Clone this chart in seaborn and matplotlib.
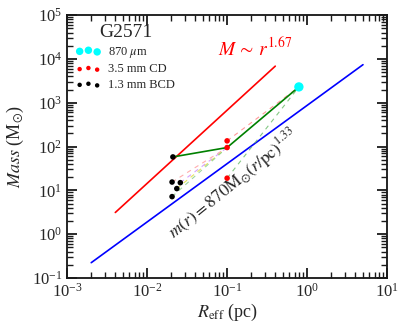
import numpy as np
import pandas as pd
import matplotlib
matplotlib.use("Agg")
import matplotlib.pyplot as plt
import seaborn as sns

# data
r_870 = [0.79]
m_870 = [2300]
r_cd = [0.1, 0.1, 0.1]
m_cd = [135, 95, 19]
r_bcd = [0.021, 0.0205, 0.026, 0.0235, 0.0205]
m_bcd = [58, 15.5, 15, 11, 7.2]
# fragment chain (green)
r_chain = [0.021, 0.1, 0.79]
m_chain = [58, 95, 2300]
# relations
r_red = [0.004, 0.4]
r_blue = [0.002, 5.0]
slope_red, norm_red = 1.67, 10**4.5
slope_blue, norm_blue = 1.33, 870.0

sns.set_theme(style="ticks")
plt.rcParams["font.family"] = ["Liberation Serif", "DejaVu Serif"]
plt.rcParams["mathtext.fontset"] = "stix"
plt.rcParams["xtick.direction"] = "in"
plt.rcParams["ytick.direction"] = "in"
plt.rcParams["axes.axisbelow"] = False

fig = plt.figure(figsize=(4.07, 3.29), dpi=100)
ax = fig.add_axes([0.165, 0.155, 0.786, 0.799])
ax.set_xscale("log")
ax.set_yscale("log")

# power-law relations
red_df = pd.DataFrame({"r": r_red, "m": [norm_red * x**slope_red for x in r_red]})
blue_df = pd.DataFrame({"r": r_blue, "m": [norm_blue * x**slope_blue for x in r_blue]})
sns.lineplot(data=red_df, x="r", y="m", color="red", lw=1.2, ax=ax)
sns.lineplot(data=blue_df, x="r", y="m", color="blue", lw=1.2, ax=ax)

# faint dashed links from BCD cores to the CD core
dash_cols = ["#ff9999", "#cc88ff", "#dddd33", "#88cc88", "#66dddd"]
for i, (rb, mb) in enumerate(zip(r_bcd[1:], m_bcd[1:])):
    ax.plot([rb, r_cd[1]], [mb, m_cd[1]], ls=(0, (4, 4)), lw=0.8,
            color=dash_cols[i], alpha=0.8)
ax.plot([r_cd[0], r_870[0]], [m_cd[0], m_870[0]], ls=(0, (4, 4)), lw=0.8,
        color="#ff8080", alpha=0.8)
ax.plot([r_cd[2], r_870[0]], [m_cd[2], m_870[0]], ls=(0, (4, 4)), lw=0.8,
        color="#66bb66", alpha=0.8)

# chain
chain_df = pd.DataFrame({"r": r_chain, "m": m_chain})
sns.lineplot(data=chain_df, x="r", y="m", color="green", lw=1.2, ax=ax)

ax.scatter(r_870, m_870, s=45, color="cyan", edgecolor="none", zorder=3, label=r"870 $\mu$m")
ax.scatter(r_cd, m_cd, s=16, color="red", edgecolor="none", zorder=3, label="3.5 mm CD")
ax.scatter(r_bcd, m_bcd, s=16, color="black", edgecolor="none", zorder=3, label="1.3 mm BCD")

ax.set_xlim(1e-3, 10)
ax.set_ylim(0.1, 1e5)
ax.tick_params(which="both", top=True, right=True, bottom=True, left=True,
               labelsize=12, color="k", direction="in")
ax.tick_params(which="major", length=7, width=1.3)
ax.tick_params(which="minor", length=4, width=1.0)
for s in ax.spines.values():
    s.set_linewidth(1.2)
    s.set_color("black")

ax.set_xlabel(r"$R_{\rm eff}$ (pc)", fontsize=13, labelpad=1)
ax.set_ylabel(r"$Mass$ (M$_{\odot}$)", fontsize=13, labelpad=4)

ax.text(0.47, 0.845, r"$M \,\sim\, r^{1.67}$", color="red", fontsize=14, transform=ax.transAxes)
ax.text(0.52, 0.36, r"$m(r)=870{\rm M}_{\odot}(r/{\rm pc})^{1.33}$", fontsize=12.5,
        rotation=39, ha="center", va="center", transform=ax.transAxes)

leg = ax.legend(loc="upper left", frameon=False, scatterpoints=3,
                scatteryoffsets=[0.375, 0.5, 0.3125], fontsize=9,
                title="G2571", handletextpad=0.6, borderaxespad=0.3,
                labelspacing=0.3, markerscale=0.8)
leg.get_title().set_fontsize(14)

fig.savefig("out.png", dpi=100)
